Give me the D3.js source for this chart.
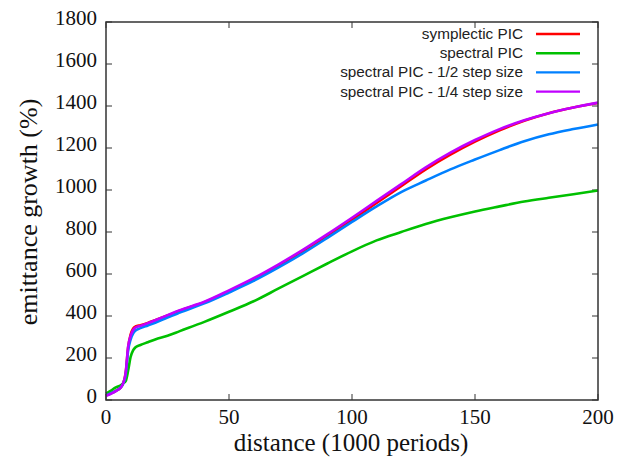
<!DOCTYPE html>
<html>
<head>
<meta charset="utf-8">
<script src="https://cdn.jsdelivr.net/npm/d3@7"></script>
<style>
  body { margin: 0; background: #fff; }
  svg { display: block; }
</style>
</head>
<body>
<div id="chart"></div>
<script>
// distance in 1000 periods
var xs = [0, 2, 4, 6, 7, 8, 9, 10, 11, 12, 14, 17, 20, 25, 30, 40, 50, 60, 70, 80, 90, 100,
          110, 120, 130, 140, 150, 160, 170, 180, 190, 200];

// emittance growth (%)
var symplectic = [22, 32, 44, 60, 80, 130, 250, 312, 340, 350, 356, 367, 380, 402, 425, 466, 518, 575, 638, 708, 782, 858,
                  938, 1018, 1098, 1168, 1230, 1284, 1330, 1366, 1393, 1414];
var spectral = [30, 45, 60, 70, 80, 90, 140, 205, 236, 251, 262, 275, 288, 306, 328, 372, 420, 470, 530, 590, 650, 708,
                760, 800, 838, 870, 898, 922, 945, 963, 980, 998];
var halfStep = [22, 32, 44, 60, 78, 120, 235, 288, 316, 331, 342, 355, 368, 393, 416, 460, 512, 567, 630, 698, 772, 848,
                922, 990, 1045, 1098, 1145, 1190, 1232, 1265, 1290, 1312];
var quarterStep = [20, 30, 42, 60, 80, 128, 255, 305, 332, 345, 353, 366, 380, 404, 428, 468, 522, 580, 645, 715, 790, 868,
                   948, 1028, 1108, 1178, 1238, 1290, 1332, 1366, 1393, 1416];

var seriesNames = ["symplectic PIC", "spectral PIC", "spectral PIC - 1/2 step size", "spectral PIC - 1/4 step size"];
var seriesColors = ["#ff0000", "#00c000", "#0080ff", "#c000ff"];
var seriesValues = [symplectic, spectral, halfStep, quarterStep];

var xTicks = [0, 50, 100, 150, 200];
var yTicks = [0, 200, 400, 600, 800, 1000, 1200, 1400, 1600, 1800];

var W = 638, H = 461;
var plotL = 106, plotR = 598, plotT = 22, plotB = 400;

var svg = d3.select("#chart").append("svg")
    .attr("width", W)
    .attr("height", H);

var x = d3.scaleLinear().domain([0, 200]).range([plotL, plotR]);
var y = d3.scaleLinear().domain([0, 1800]).range([plotB, plotT]);

var serif = "'Liberation Serif', 'Times New Roman', serif";
var sans = "'Liberation Sans', Arial, sans-serif";

// ticks on all four sides, pointing inward
var tickLen = 6;
var ticks = svg.append("g").attr("stroke", "#333").attr("stroke-width", 1);
xTicks.forEach(function(t) {
    ticks.append("line").attr("x1", x(t)).attr("x2", x(t)).attr("y1", plotB).attr("y2", plotB - tickLen);
    ticks.append("line").attr("x1", x(t)).attr("x2", x(t)).attr("y1", plotT).attr("y2", plotT + tickLen);
});
yTicks.forEach(function(t) {
    ticks.append("line").attr("x1", plotL).attr("x2", plotL + tickLen).attr("y1", y(t)).attr("y2", y(t));
    ticks.append("line").attr("x1", plotR).attr("x2", plotR - tickLen).attr("y1", y(t)).attr("y2", y(t));
});

svg.append("g").selectAll("text")
    .data(xTicks)
    .enter()
    .append("text")
    .attr("x", function(d) { return x(d); })
    .attr("y", 424)
    .attr("text-anchor", "middle")
    .attr("font-family", serif)
    .attr("font-size", 21)
    .attr("fill", "#111")
    .text(function(d) { return d; });

svg.append("g").selectAll("text")
    .data(yTicks)
    .enter()
    .append("text")
    .attr("x", plotL - 9)
    .attr("y", function(d) { return y(d) + 3; })
    .attr("text-anchor", "end")
    .attr("font-family", serif)
    .attr("font-size", 21)
    .attr("fill", "#111")
    .text(function(d) { return d; });

svg.append("text")
    .attr("x", (plotL + plotR) / 2 - 1)
    .attr("y", 451)
    .attr("text-anchor", "middle")
    .attr("font-family", serif)
    .attr("font-size", 25)
    .attr("fill", "#111")
    .text("distance (1000 periods)");

svg.append("text")
    .attr("transform", "translate(37,212) rotate(-90)")
    .attr("text-anchor", "middle")
    .attr("font-family", serif)
    .attr("font-size", 26)
    .attr("fill", "#111")
    .text("emittance growth (%)");

// curves
var line = d3.line()
    .x(function(d, i) { return x(xs[i]); })
    .y(function(d) { return y(d); })
    .curve(d3.curveMonotoneX);

seriesValues.forEach(function(vals, k) {
    svg.append("path")
        .datum(vals)
        .attr("fill", "none")
        .attr("stroke", seriesColors[k])
        .attr("stroke-width", 2.6)
        .attr("stroke-linejoin", "round")
        .attr("d", line);
});

// legend
var legend = svg.append("g");
seriesNames.forEach(function(name, k) {
    var ly = 34 + k * 19.2;
    legend.append("text")
        .attr("x", 523)
        .attr("y", ly + 5)
        .attr("text-anchor", "end")
        .attr("font-family", sans)
        .attr("font-size", 15.3)
        .attr("fill", "#222")
        .text(name);
    legend.append("line")
        .attr("x1", 536).attr("x2", 580)
        .attr("y1", ly).attr("y2", ly)
        .attr("stroke", seriesColors[k])
        .attr("stroke-width", 2.4);
});

// frame
svg.append("rect")
    .attr("x", plotL)
    .attr("y", plotT)
    .attr("width", plotR - plotL)
    .attr("height", plotB - plotT)
    .attr("fill", "none")
    .attr("stroke", "#333")
    .attr("stroke-width", 1.5);
</script>
</body>
</html>
